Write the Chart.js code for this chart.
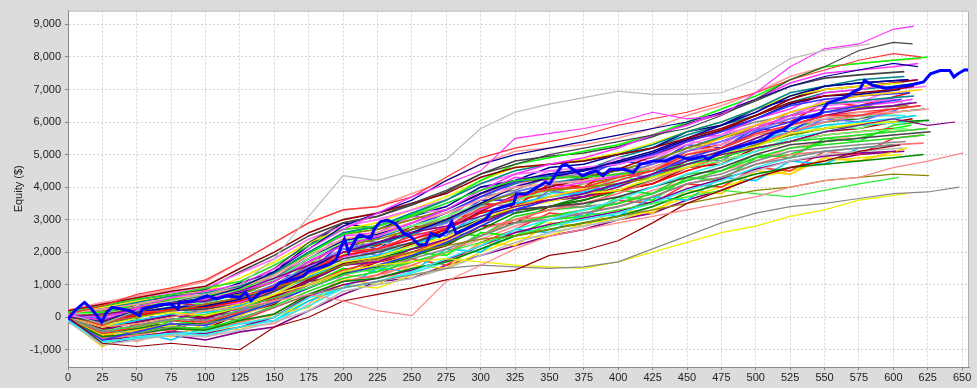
<!DOCTYPE html>
<html>
<head>
<meta charset="utf-8">
<script src="https://cdn.jsdelivr.net/npm/chart.js@4/dist/chart.umd.min.js"></script>
<style>
  html, body { margin: 0; padding: 0; background: #dcdcdc; }
  #wrap { width: 977px; height: 388px; position: relative; }
</style>
</head>
<body>
<div id="wrap"><canvas id="equityChart"></canvas></div>
<script>
// x positions (trade #) where the thin simulated runs were sampled
const steps = [0,25,50,75,100,125,150,175,200,225,250,275,300,325,350,375,400,425,450,475,500,525,550,575,600,625,650];
const xTickValues = [0,25,50,75,100,125,150,175,200,225,250,275,300,325,350,375,400,425,450,475,500,525,550,575,600,625,650];
const yTickValues = [-1000,0,1000,2000,3000,4000,5000,6000,7000,8000,9000];

// actual equity curve (thick blue)
const blueX = [0,5,9,12,17,21,24.5,28,32,38,45,52,54,61,67,74,80,81,91,101,108,115,125,129,133,140,149,154,164,171,175,186,190,195,198,201,204,210,212,220,223,227,232,238,244,249,255,260,264,270,275,279,282,290,297,304,309,316,324,326,333,341,347,350,354,359,362,367,374,380,384,389,394,404,411,416,426,435,443,452,462,465,474,481,489,498,506,513,520,527,533,541,547,552,559,566,571,576,579,585,595,602,612,622,627,634,641,644,647,652,655];
const blueY = [-50,200,350,455,260,50,-150,150,300,260,200,50,260,325,385,415,260,455,505,660,565,660,605,760,505,760,860,1060,1165,1265,1415,1570,1620,1770,2100,2400,2000,2450,2530,2430,2730,2935,2985,2880,2580,2480,2225,2225,2580,2480,2630,2935,2580,2730,2880,3035,3290,3390,3490,3790,3790,3995,4150,4095,4350,4655,4700,4550,4350,4450,4500,4350,4550,4550,4450,4700,4805,4805,4955,4855,4955,4855,5060,5160,5260,5360,5460,5665,5765,5970,6120,6170,6270,6575,6675,6780,6930,7030,7280,7130,7030,7080,7130,7230,7485,7585,7585,7385,7485,7605,7600];

// outlying runs
const runLightGray = [100,-200,200,500,700,1000,1800,3100,4350,4200,4500,4850,5800,6300,6550,6750,6950,6850,6850,6900,7300,7950,8200,8400];
const runMagenta = [50,-100,300,600,800,1000,1500,2100,2700,3200,3700,4100,4500,5500,5650,5800,6000,6300,6100,6200,6900,7700,8250,8400,8850,8950];
const runDarkGray = [0,-150,150,450,700,1000,1500,2300,2900,3100,3500,3900,4400,4700,5000,5200,5400,5600,5800,6200,6700,7300,7700,8200,8450,8400];
const runRedTop = [100,350,700,900,1150,1700,2300,2900,3300,3400,3700,4300,4900,5200,5400,5600,5900,6100,6300,6600,6900,7300,7600,7900,8100,8000];
const runNavyTop = [0,-100,200,400,600,900,1400,2100,2800,3200,3600,4200,4700,5000,5200,5400,5600,5800,6000,6300,6700,7100,7400,7600,7800,7700];
const runSalmonLow = [0,-300,-200,0,200,300,500,700,500,200,50,1100,1600,2100,2500,2700,2900,3100,3300,3500,3700,4000,4200,4300,4600,4800,5050];
const runDarkRedLow = [0,-800,-900,-800,-900,-1000,-300,0,500,700,900,1150,1300,1450,1900,2050,2350,2900,3500,3900,4300,4600,4800,5100,5300];
const runGrayLow = [0,-400,-500,-300,-200,0,300,700,900,1100,1300,1500,1600,1550,1500,1550,1700,2100,2500,2900,3200,3400,3500,3650,3800,3850,4000];
const runYellowLow = [0,-300,-200,0,200,400,700,1000,1400,1600,1700,1800,1700,1600,1550,1500,1700,2000,2300,2600,2800,3100,3300,3600,3800];
const runOliveLow = [0,-200,0,200,400,600,900,1200,1600,1800,2000,2200,2400,2500,2700,2900,3100,3300,3500,3700,3900,4000,4200,4300,4400,4350];
const runGreenLow = [0,-400,-300,-100,100,300,600,900,1300,1500,1700,2000,2300,2500,2800,3100,3300,3500,3700,3900,3800,3700,3900,4100,4300];
const runPurple = [0,100,200,400,500,800,1200,1600,2000,2300,2600,2800,3100,3400,3600,3800,4100,4400,4700,5000,5200,5400,5700,5900,6100,5900,6000];
// trade count where each outlying run stops
const outlierEnds = [583,615,614,620,618,651,605,648,610,626,604,645];

// runs inside the main band
const band = [
  [50,-250,150,200,400,600,950,1400,2000,2100,2500,2750,3350,3650,3950,4000,4300,4500,5000,5200,5650,5900,6200,6200,6400,6500],
  [-50,-700,-450,-200,-250,100,450,900,1300,1600,1900,2300,2800,3300,3600,3800,4100,4400,4900,5200,5700,6000,6300,6500,6700],
  [150,350,550,700,900,1100,1600,2200,2700,2800,3100,3500,3900,4200,4300,4300,4400,4500,4700,4900,5200,5400,5500,5600,5700,5800],
  [0,-300,0,150,50,300,700,1300,1700,1850,2200,2450,3000,3400,3550,3800,3900,4300,4600,5000,5250,5650,5800,5950,6000],
  [100,0,250,450,550,800,1100,1700,2200,2500,2900,3300,3900,4400,4700,4900,5200,5600,5900,6300,6700,7200,7500,7600,7700,7800],
  [-100,-800,-600,-500,-450,-200,0,600,900,1100,1400,1800,2200,2700,3000,3300,3600,4000,4400,4700,5100,5500,5700,5900,6000],
  [130,250,400,600,700,900,1300,1900,2400,2600,2900,3200,3600,4000,4100,4200,4400,4600,5000,5300,5600,5900,6100,6300,6300,6400],
  [-30,-450,-250,-50,-100,200,500,1000,1400,1500,1800,2100,2500,2900,3000,3200,3400,3700,4100,4300,4700,4900,5100,5200,5300],
  [200,400,600,800,950,1500,2000,2600,3000,3200,3500,3800,4300,4600,4700,4800,5000,5200,5500,5800,6200,6600,6800,6900,7000,7100],
  [50,-150,150,300,350,550,950,1500,2000,2300,2600,3000,3500,4000,4300,4500,4800,5100,5500,5900,6300,6800,7100,7200,7300],
  [-70,-600,-500,-350,-400,-100,100,700,1100,1200,1500,1700,2100,2500,2700,2900,3100,3400,3800,4100,4400,4600,4700,4800,4900,5000],
  [90,50,300,450,550,700,1100,1700,2200,2400,2700,3000,3500,3800,3900,4000,4100,4300,4700,4900,5300,5600,5800,5900,6000],
  [0,-400,-150,50,-50,300,600,1100,1600,1700,2100,2400,2900,3300,3600,3700,4000,4400,4800,5100,5500,5900,6200,6400,6500,6600],
  [150,250,450,650,750,950,1350,2000,2600,2800,3200,3600,4100,4500,4700,4800,5000,5300,5700,6000,6400,6900,7100,7300,7400],
  [30,-200,0,200,250,400,800,1300,1800,2000,2300,2600,3000,3300,3400,3500,3700,4000,4300,4600,5000,5300,5400,5500,5600,5700],
  [-90,-650,-550,-350,-400,-150,100,700,1100,1300,1600,2000,2500,3000,3300,3500,3800,4200,4600,4900,5300,5700,6000,6200,6300],
  [70,-50,150,300,400,600,1000,1550,2100,2300,2600,2900,3500,3850,4100,4200,4400,4700,5100,5400,5750,6100,6300,6400,6500,6600],
  [110,100,300,500,600,800,1150,1800,2300,2500,2800,3100,3500,3800,3900,4000,4100,4300,4600,4800,5100,5400,5600,5700,5800],
  [-50,-550,-400,-200,-250,50,450,900,1400,1600,1950,2350,2900,3400,3700,3950,4300,4700,5100,5500,5900,6300,6600,6800,6900,7000],
  [190,400,600,750,900,1350,1800,2400,2800,3000,3300,3600,4100,4400,4500,4600,4700,4950,5300,5600,5900,6300,6500,6600,6700],
  [10,-300,-100,100,150,350,700,1250,1700,1900,2200,2600,3100,3500,3700,3850,4050,4350,4700,5050,5400,5700,5900,6000,6100,6200],
  [-130,-850,-700,-550,-600,-400,-150,200,800,1000,1200,1500,1900,2300,2600,2800,3000,3400,3800,4100,4500,4800,5000,5100,5200],
  [120,150,400,550,650,850,1300,1950,2550,2800,3150,3600,4200,4700,4900,5100,5300,5600,6000,6400,6800,7300,7700,7800,7900,8000],
  [40,-100,50,250,300,500,850,1400,1900,2100,2400,2700,3200,3500,3600,3700,3900,4100,4500,4800,5100,5400,5600,5700,5800],
  [-30,-500,-300,-100,-150,150,550,1000,1450,1700,2000,2400,2900,3400,3700,3900,4200,4500,4900,5200,5600,5900,6200,6300,6400,6500],
  [90,50,250,400,500,700,1100,1700,2250,2450,2800,3200,3700,4150,4350,4500,4700,5000,5400,5700,6100,6500,6700,6800,6900],
  [-70,-650,-450,-300,-350,-50,350,800,1200,1400,1700,2000,2500,2900,3100,3300,3500,3800,4200,4500,4900,5200,5300,5400,5500,5600],
  [170,300,500,650,800,1200,1700,2300,2700,2900,3300,3700,4200,4600,4700,4850,5050,5350,5700,6000,6400,6800,7000,7100,7200],
  [30,-200,50,200,250,450,800,1350,1850,2100,2400,2800,3300,3700,3950,4150,4350,4700,5100,5400,5800,6200,6400,6500,6600,6700],
  [-110,-750,-650,-500,-550,-300,-100,350,900,1100,1350,1700,2100,2500,2800,3000,3200,3500,3900,4200,4600,4900,5100,5200,5300],
  [220,450,650,850,1100,1700,2300,2900,3300,3400,3800,4200,4700,5100,5200,5300,5500,5800,6200,6500,6900,7400,7700,7800,7900,7950],
  [70,-100,150,300,350,550,950,1450,1900,2050,2300,2600,3000,3300,3400,3400,3500,3800,4200,4400,4800,5100,5200,5300,5400],
  [0,-350,-150,50,0,300,650,1150,1650,1850,2250,2700,3250,3750,4000,4250,4550,4950,5400,5750,6200,6700,7000,7100,7200,7300],
  [110,100,300,450,550,750,1150,1800,2350,2550,2900,3300,3800,4200,4400,4550,4750,5050,5450,5750,6100,6550,6800,6850,7000],
  [-50,-500,-350,-200,-200,100,450,900,1350,1550,1850,2250,2700,3200,3400,3600,3900,4200,4600,4900,5300,5600,5800,5900,6000,6050],
  [140,200,400,550,700,900,1350,2000,2550,2700,3000,3300,3800,4150,4250,4350,4500,4800,5200,5500,5800,6200,6400,6450,6500],
  [-90,-700,-600,-450,-500,-300,0,650,1000,1200,1450,1750,2200,2600,2850,3050,3250,3550,3950,4250,4550,4800,4950,5050,5100],
  [50,-150,100,250,300,500,900,1450,2000,2250,2550,2950,3450,3850,4100,4300,4500,4800,5200,5550,5900,6300,6550,6650,6750,6800],
  [190,350,550,700,850,1400,1900,2500,2900,3100,3450,3850,4400,4800,4950,5050,5250,5550,5950,6250,6650,7100,7350,7450,7550],
  [10,-300,-100,50,50,300,650,1150,1600,1750,2000,2300,2700,3000,3100,3200,3400,3700,4100,4300,4700,5000,5100,5200,5300,5350],
  [0,-450,150,-150,350,200,800,1200,2100,1900,2600,2500,3300,3200,3900,3700,4400,4300,4900,4800,5500,5600,6100,6000,6400],
  [100,300,-100,500,400,750,900,1700,1900,2600,2500,3100,3000,3600,3900,3800,4300,4200,4700,5000,5300,5500,5900,5800,6100,6200],
  [-100,-900,-400,-600,-200,-400,100,300,1200,1000,1600,1500,2300,2200,2900,2800,3300,3200,3900,3800,4500,4400,4900,4800,5200],
  [200,150,600,400,900,800,1500,1700,2600,2400,3200,3300,3800,4000,4500,4400,4900,4800,5400,5300,5900,6100,6700,6600,7000,7100],
  [0,-750,-450,-700,-300,-200,-100,500,900,1500,1400,2100,2000,2700,2600,3200,3100,3700,3600,4300,4200,4800,4700,5200,5300],
  [50,350,250,700,600,950,1100,1800,1700,2300,2200,2900,3400,3500,4200,4100,4600,4500,5200,5100,5700,5600,6200,6100,6600],
  [-50,-300,-600,-100,-250,250,500,1000,1500,1400,2000,1900,2600,2500,3000,3100,3700,3600,4300,4200,4900,5000,5400,5500,5800,5900],
  [150,50,400,500,300,650,900,1600,2300,2200,2800,2700,3500,3400,4100,4000,4600,4500,5100,5300,5900,6000,6600,6500,6900],
  [-150,-650,-200,-450,0,-100,300,700,1100,1300,1800,1600,2300,2700,3200,3100,3600,3500,4100,4000,4600,4500,5100,5000,5500,5600],
  [100,150,400,200,600,650,1200,1400,2300,2100,2700,2900,3600,3600,4000,4300,4800,4700,5300,5200,5800,5700,6300,6400,6800],
  [0,-150,-450,100,200,50,600,1100,1600,1900,2100,2600,2500,3100,3300,3400,3900,3800,4400,4500,5000,4900,5500,5400,5900,6000],
  [-50,-750,-350,-250,-500,-200,0,500,1000,900,1300,1500,2000,2400,2500,2900,3000,3300,3700,4000,4300,4500,4800,4900,5000],
  [200,450,300,600,850,700,1300,2000,2500,2600,3100,3000,3800,4300,4200,4600,4700,5000,5500,5600,6100,6400,6900,7000,7200,7300],
  [50,-300,0,350,-50,400,800,1200,1700,2000,2200,2700,3200,3300,3800,3900,4200,4500,4800,5100,5400,5800,6000,6200,6200],
  [-100,-500,-750,-400,-600,-300,-200,400,1300,1200,1700,2000,2400,2800,3100,3300,3500,3900,4200,4500,4800,5200,5400,5600,5700,5800],
  [100,0,500,700,450,850,1200,1900,2400,2300,2700,3100,3700,3900,4300,4400,4800,4900,5400,5700,6000,6200,6600,6800,6900],
  [0,-600,-200,-350,-350,100,400,1100,1300,1700,1900,2200,2800,2900,3400,3600,3900,4100,4600,4700,5200,5400,5700,5800,6000,6100],
  [150,300,600,500,700,1050,1400,2200,2900,2700,3100,3400,4000,4200,4600,4700,5000,5200,5700,5900,6400,6700,7100,7200,7300],
  [-30,-450,-50,-350,50,150,700,1000,1400,1800,2100,2300,2800,3300,3400,3700,4100,4300,4800,5000,5400,5700,6000,6100,6300,6400],
  [80,50,150,450,350,550,1000,1600,2000,2200,2600,2900,3400,3600,3800,4100,4300,4600,5000,5200,5600,5800,6100,6200,6200],
  [-80,-850,-650,-550,-700,-450,-300,200,700,1100,1200,1600,1900,2200,2500,2700,3000,3200,3600,3900,4300,4600,4800,5000,5100],
  [120,300,150,600,450,750,1200,1800,2300,2500,2800,3200,3700,4100,4400,4500,4900,5200,5600,5900,6200,6600,6900,7000,7100,7200]
];
// trade count where each band run stops
const bandEnds = [620,606,624,603,618,609,626,601,615,611,622,605,617,608,627,604,613,610,621,602,
                  616,607,625,600,619,612,623,606,614,603,620,609,618,605,626,611,602,615,608,622,
                  604,617,610,624,601,607,613,612,621,603,619,606,616,609,625,600,614,611,623,605,
                  608,618];

const palette = ['#ff3333','#3333ff','#22dd22','#eeee00','#ff33ff','#33eeee','#ff9999','#888888',
                 '#990000','#000099','#008800','#888800','#880088','#008888','#444444','#ff7070',
                 '#7070ff','#70ff70','#ffcc00','#ff70ff','#00ccff','#bbbbbb','#00ff00','#ff0000'];
const outlierColors = ['#bbbbbb','#ff33ff','#444444','#ff3333','#000099','#ff8888',
                       '#990000','#888888','#eeee00','#888800','#33ee33','#880088'];
const outliers = [runLightGray, runMagenta, runDarkGray, runRedTop, runNavyTop, runSalmonLow,
                  runDarkRedLow, runGrayLow, runYellowLow, runOliveLow, runGreenLow, runPurple];

function toPoints(vals, endX) {
  return vals.map((v, i) => ({ x: i === vals.length - 1 ? endX : steps[i], y: v }));
}

const datasets = [{
  data: blueX.map((x, i) => ({ x: x, y: blueY[i] })),
  borderColor: '#0000ff',
  borderWidth: 3
}];
outliers.forEach((vals, i) => {
  datasets.push({ data: toPoints(vals, outlierEnds[i]), borderColor: outlierColors[i], borderWidth: 1.2 });
});
band.forEach((vals, i) => {
  datasets.push({ data: toPoints(vals, bandEnds[i]), borderColor: palette[i % palette.length], borderWidth: 1.6 });
});

// white plot area + outline, like the java chart
const plotFrame = {
  id: 'plotFrame',
  beforeDraw(chart) {
    const { ctx, chartArea: a } = chart;
    ctx.save();
    ctx.fillStyle = '#dcdcdc';
    ctx.fillRect(0, 0, chart.width, chart.height);
    ctx.fillStyle = '#ffffff';
    ctx.fillRect(a.left, a.top, a.right - a.left, a.bottom - a.top);
    ctx.restore();
  },
  afterDraw(chart) {
    const { ctx, chartArea: a } = chart;
    ctx.save();
    ctx.strokeStyle = '#b0b0b0';
    ctx.lineWidth = 1;
    ctx.beginPath();
    ctx.moveTo(a.left, a.top + 0.5);
    ctx.lineTo(a.right - 0.5, a.top + 0.5);
    ctx.lineTo(a.right - 0.5, a.bottom);
    ctx.stroke();
    ctx.restore();
  }
};

const tickFont = { family: '"Liberation Sans", Arial, sans-serif', size: 11 };

new Chart(document.getElementById('equityChart'), {
  type: 'line',
  data: { datasets: datasets },
  plugins: [plotFrame],
  options: {
    responsive: true,
    maintainAspectRatio: false,
    animation: false,
    events: [],
    layout: { padding: { top: 6, right: 8, bottom: 0, left: 0 } },
    elements: {
      point: { radius: 0 },
      line: { tension: 0 }
    },
    plugins: { legend: { display: false }, tooltip: { enabled: false } },
    scales: {
      x: {
        type: 'linear',
        min: 0,
        max: 655,
        afterFit: (s) => { s.height = 21; },
        afterBuildTicks: (s) => { s.ticks = xTickValues.map(v => ({ value: v })); },
        ticks: { autoSkip: false, maxRotation: 0, color: '#222', font: tickFont, padding: 1 },
        grid: { color: '#d4d4d4', tickLength: 3, tickColor: '#888' },
        border: { color: '#888', dash: [2, 2] }
      },
      y: {
        min: -1530,
        max: 9425,
        afterFit: (s) => { s.width = 68; },
        afterBuildTicks: (s) => { s.ticks = yTickValues.map(v => ({ value: v })); },
        ticks: { color: '#222', font: tickFont, padding: 4 },
        grid: { color: '#d4d4d4', tickLength: 3, tickColor: '#888' },
        border: { color: '#888', dash: [2, 2] },
        title: { display: true, text: 'Equity ($)', color: '#222', font: tickFont, padding: { top: 12, bottom: 0 } }
      }
    }
  }
});
</script>
</body>
</html>
